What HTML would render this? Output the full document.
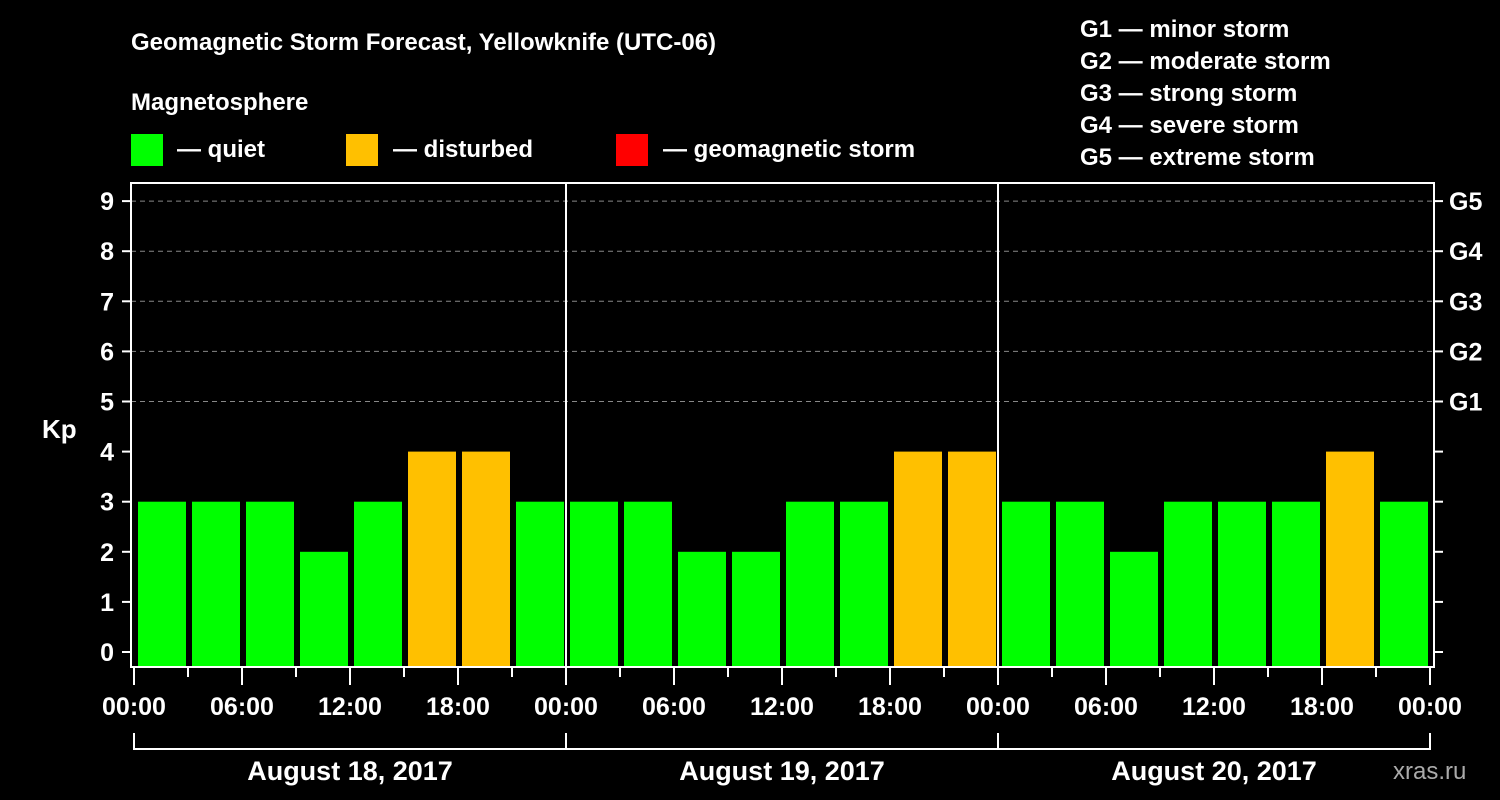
<!DOCTYPE html>
<html><head><meta charset="utf-8"><style>
html,body{margin:0;padding:0;background:#000;}
svg{display:block;font-family:"Liberation Sans",sans-serif;font-weight:bold;}
</style></head><body>
<svg width="1500" height="800" viewBox="0 0 1500 800">
<rect width="1500" height="800" fill="#000"/>
<text x="131" y="50" fill="#fff" font-size="24">Geomagnetic Storm Forecast, Yellowknife (UTC-06)</text>
<text x="131" y="110" fill="#fff" font-size="24">Magnetosphere</text>
<g>
<rect x="131" y="134" width="32" height="32" fill="#00ff00"/>
<text x="177" y="157" fill="#fff" font-size="24">— quiet</text>
<rect x="346" y="134" width="32" height="32" fill="#ffc000"/>
<text x="393" y="157" fill="#fff" font-size="24">— disturbed</text>
<rect x="616" y="134" width="32" height="32" fill="#ff0000"/>
<text x="663" y="157" fill="#fff" font-size="24">— geomagnetic storm</text>
</g>
<g fill="#fff" font-size="24">
<text x="1080" y="37">G1 — minor storm</text>
<text x="1080" y="69">G2 — moderate storm</text>
<text x="1080" y="101">G3 — strong storm</text>
<text x="1080" y="133">G4 — severe storm</text>
<text x="1080" y="165">G5 — extreme storm</text>
</g>
<text x="42" y="438" fill="#fff" font-size="26">Kp</text>
<text x="1393" y="779" fill="#aaa" font-size="24" font-weight="normal">xras.ru</text>
<g id="grid"></g>
<g id="bars"></g>
<g id="axes"></g>
</svg>
<script>
const dayLabels = ["August 18, 2017","August 19, 2017","August 20, 2017"];
const kpValues = [3,3,3,2,3,4,4,3, 3,3,2,2,3,3,4,4, 3,3,2,3,3,3,4,3];
const yTicks = [0,1,2,3,4,5,6,7,8,9];
const gLabels = ["G1","G2","G3","G4","G5"];
const gLevels = [5,6,7,8,9];
const timeLabels = ["00:00","06:00","12:00","18:00"];

const NS="http://www.w3.org/2000/svg";
const X0=134, X1=1430, FL=131, FR=1434, FT=183, FB=667;
const y = v => 652 - v*50.1;
const slot = (X1-X0)/kpValues.length;
const x = i => X0 + i*slot;
function mk(tag, attrs, parent){const e=document.createElementNS(NS,tag);for(const k in attrs)e.setAttribute(k,attrs[k]);parent.appendChild(e);return e;}
const grid=document.getElementById('grid'), bars=document.getElementById('bars'), axes=document.getElementById('axes');

yTicks.forEach(t=>{
  if(t>=5){const l=mk('line',{x1:FL,x2:FR,y1:y(t),y2:y(t),stroke:'#888','stroke-dasharray':'5,4','stroke-width':1},grid);
  
  }
  const tk=mk('line',{x1:FL-9,x2:FL,y1:y(t),y2:y(t),stroke:'#fff','stroke-width':2},axes);
  
  
  const tr=mk('line',{x1:FR,x2:FR+9,y1:y(t),y2:y(t),stroke:'#fff','stroke-width':2},axes);
  
  
  const lb=mk('text',{x:FL-17,y:y(t)+9,fill:'#fff','font-size':25,'text-anchor':'end'},axes);
  lb.textContent=t;
  
  
});
gLabels.forEach((g,i)=>{
  const lb=mk('text',{x:FR+15,y:y(gLevels[i])+9,fill:'#fff','font-size':25},axes);
  lb.textContent=g;
  
  
});
kpValues.forEach((v,i)=>{
  const c = v>=5?'#ff0000':(v>=4?'#ffc000':'#00ff00');
  const top=y(v);
  const r=mk('rect',{x:x(i)+4,y:top,width:slot-6,height:FB-1-top,fill:c},bars);
  
  
});
const fr=mk('rect',{x:FL,y:FT,width:FR-FL,height:FB-FT,fill:'none',stroke:'#fff','stroke-width':2},axes);


for(let d=1;d<dayLabels.length;d++){
  const l=mk('line',{x1:x(d*8),x2:x(d*8),y1:FT,y2:FB,stroke:'#fff','stroke-width':2},axes);
  
  
}
for(let i=0;i<=kpValues.length;i++){
  const major=i%2===0;
  const t=mk('line',{x1:x(i),x2:x(i),y1:FB,y2:major?685:677,stroke:'#fff','stroke-width':2},axes);
  
  
  if(major){
    const lb=mk('text',{x:x(i),y:715,fill:'#fff','font-size':25,'text-anchor':'middle'},axes);
    lb.textContent=timeLabels[(i/2)%4];
    
    
  }
}
dayLabels.forEach((d,k)=>{
  const a=x(k*8), b=x(k*8+8);
  const p=mk('path',{d:`M${a},733V749H${b}V733`,fill:'none',stroke:'#fff','stroke-width':2},axes);
  
  
  const lb=mk('text',{x:(a+b)/2,y:780,fill:'#fff','font-size':27,'text-anchor':'middle'},axes);
  lb.textContent=d;
  
  
});
</script>
</body></html>
